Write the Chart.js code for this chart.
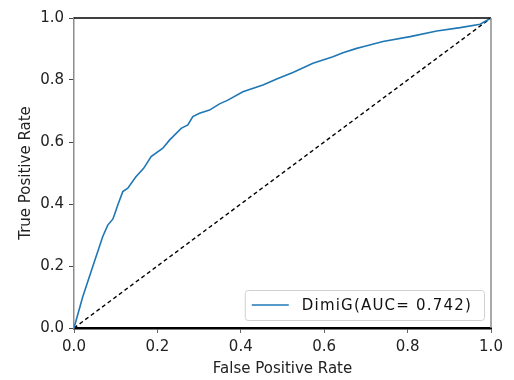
<!DOCTYPE html>
<html>
<head>
<meta charset="utf-8">
<script src="https://cdn.jsdelivr.net/npm/chart.js"></script>
<style>
  html, body { margin: 0; padding: 0; background: #fff; }
  #wrap { width: 514px; height: 380px; }
</style>
</head>
<body>
<div id="wrap"><canvas id="rocChart"></canvas></div>
<script>
// ROC curve
const fprValues = [0, 0.021, 0.045, 0.069, 0.081, 0.093, 0.097, 0.105, 0.117, 0.129, 0.148, 0.167, 0.185,
    0.213, 0.229, 0.257, 0.273, 0.285, 0.301, 0.325, 0.349, 0.369, 0.405, 0.453, 0.489, 0.525, 0.573,
    0.621, 0.645, 0.678, 0.693, 0.741, 0.806, 0.870, 0.926, 0.974, 1];
const tprValues = [0, 0.101, 0.198, 0.295, 0.332, 0.351, 0.365, 0.397, 0.440, 0.451, 0.487, 0.515, 0.553,
    0.580, 0.606, 0.644, 0.655, 0.682, 0.693, 0.703, 0.723, 0.735, 0.762, 0.784, 0.805, 0.824, 0.854,
    0.875, 0.888, 0.902, 0.907, 0.924, 0.940, 0.958, 0.969, 0.980, 1];

// chance line
const chanceFpr = [0, 1];
const chanceTpr = [0, 1];

const seriesLabel = 'DimiG(AUC= 0.742)';
const tickStep = 0.2;

const FONT = "'DejaVu Sans', sans-serif";

function toPoints(xs, ys) {
    return xs.map((x, i) => ({ x: x, y: ys[i] }));
}

// matplotlib-ish legend in lower right of the plot area
const insideLegend = {
    id: 'insideLegend',
    afterDraw(chart) {
        const ctx = chart.ctx;
        const area = chart.chartArea;
        const ds = chart.data.datasets[0];
        ctx.save();
        ctx.font = '15px ' + FONT;
        ctx.letterSpacing = '1.2px';
        const textW = ctx.measureText(ds.label).width;
        const boxW = 7 + 37 + 13 + textW + 12;
        const boxH = 30;
        const bx = area.right - 7 - boxW;
        const by = area.bottom - 8 - boxH;

        ctx.fillStyle = 'rgba(255,255,255,0.8)';
        ctx.strokeStyle = '#d0d0d0';
        ctx.lineWidth = 1;
        ctx.beginPath();
        ctx.roundRect(bx + 0.5, by + 0.5, boxW, boxH, 3);
        ctx.fill();
        ctx.stroke();

        const cy = by + boxH / 2;
        ctx.strokeStyle = ds.borderColor;
        ctx.lineWidth = 1.6;
        ctx.beginPath();
        ctx.moveTo(bx + 7, cy);
        ctx.lineTo(bx + 44, cy);
        ctx.stroke();

        ctx.fillStyle = '#111';
        ctx.textBaseline = 'middle';
        ctx.fillText(ds.label, bx + 57, cy + 1);
        ctx.restore();
    }
};

// top and right spines
const frameLines = {
    id: 'frameLines',
    afterDraw(chart) {
        const ctx = chart.ctx;
        const a = chart.chartArea;
        ctx.save();
        ctx.strokeStyle = '#000';
        ctx.lineWidth = 1.5;
        ctx.beginPath();
        ctx.moveTo(a.left, a.top);
        ctx.lineTo(a.right, a.top);
        ctx.stroke();
        ctx.strokeStyle = '#8c8c8c';
        ctx.lineWidth = 1.5;
        ctx.beginPath();
        ctx.moveTo(a.right, a.top);
        ctx.lineTo(a.right, a.bottom);
        ctx.stroke();
        ctx.restore();
    }
};

new Chart(document.getElementById('rocChart'), {
    type: 'scatter',
    data: {
        datasets: [{
            label: seriesLabel,
            data: toPoints(fprValues, tprValues),
            showLine: true,
            borderColor: '#1f77b4',
            borderWidth: 1.6,
            pointRadius: 0,
            tension: 0
        }, {
            label: 'chance',
            data: toPoints(chanceFpr, chanceTpr),
            showLine: true,
            borderColor: '#000',
            borderWidth: 1.4,
            borderDash: [4, 3],
            pointRadius: 0
        }]
    },
    options: {
        responsive: true,
        maintainAspectRatio: false,
        animation: false,
        layout: {
            padding: { left: 0, top: 18, right: 23, bottom: 0 }
        },
        plugins: {
            legend: { display: false },
            tooltip: { enabled: false }
        },
        scales: {
            x: {
                type: 'linear',
                min: 0,
                max: 1,
                afterFit: s => { s.height = 52; },
                ticks: {
                    stepSize: tickStep,
                    padding: 5,
                    color: '#222',
                    font: { family: FONT, size: 15 },
                    callback: v => v.toFixed(1)
                },
                grid: {
                    drawOnChartArea: false,
                    tickLength: 5,
                    color: '#666'
                },
                border: { color: '#000', width: 2.5 },
                title: {
                    display: true,
                    text: 'False Positive Rate',
                    color: '#222',
                    font: { family: FONT, size: 15 },
                    padding: { top: 0, bottom: 2 }
                }
            },
            y: {
                type: 'linear',
                min: 0,
                max: 1,
                afterFit: s => { s.width = 74; },
                ticks: {
                    stepSize: tickStep,
                    padding: 5,
                    color: '#222',
                    font: { family: FONT, size: 15 },
                    callback: v => v.toFixed(1)
                },
                grid: {
                    drawOnChartArea: false,
                    tickLength: 5,
                    color: '#444'
                },
                border: { color: '#8c8c8c', width: 1.5 },
                title: {
                    display: true,
                    text: 'True Positive Rate',
                    color: '#222',
                    font: { family: FONT, size: 15 },
                    padding: { top: 17, bottom: 0 }
                }
            }
        }
    },
    plugins: [frameLines, insideLegend]
});
</script>
</body>
</html>
